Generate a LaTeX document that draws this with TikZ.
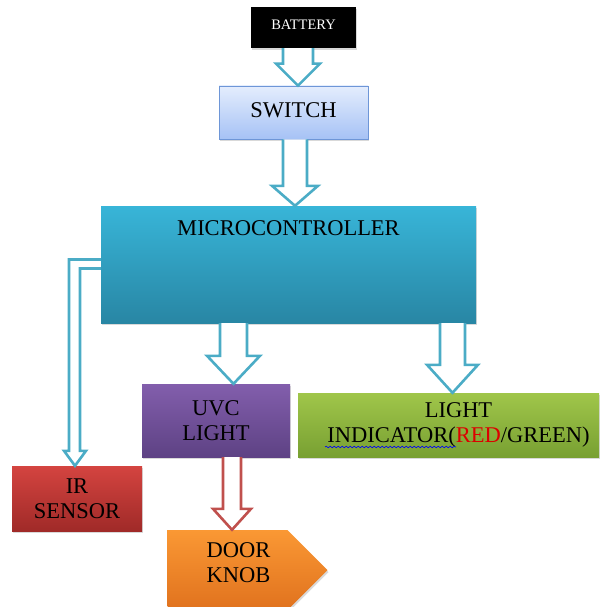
\documentclass[tikz,border=0pt]{standalone}
\usepackage{fontspec}
\setmainfont{Liberation Serif}
\usepackage{xcolor}
\usepackage{tikz}
\usetikzlibrary{calc,positioning,shapes.symbols,shadows,decorations.pathmorphing}

\definecolor{arrowcyan}{RGB}{75,172,198}
\definecolor{arrowred}{RGB}{192,80,77}
\definecolor{swtop}{RGB}{228,237,253}
\definecolor{swbot}{RGB}{166,194,245}
\definecolor{swedge}{RGB}{110,150,215}
\definecolor{mctop}{RGB}{56,181,216}
\definecolor{mcbot}{RGB}{40,134,164}
\definecolor{uvctop}{RGB}{130,94,172}
\definecolor{uvcbot}{RGB}{94,66,132}
\definecolor{indtop}{RGB}{160,198,74}
\definecolor{indbot}{RGB}{120,160,50}
\definecolor{irtop}{RGB}{212,68,64}
\definecolor{irbot}{RGB}{160,42,40}
\definecolor{doortop}{RGB}{250,152,52}
\definecolor{doorbot}{RGB}{224,114,30}
\definecolor{redtxt}{RGB}{220,0,0}

\newcommand{\bigfont}{\fontsize{22.5}{25}\selectfont}

% hollow block arrow going down: [colour]{x}{from}{to}{shaft half}{head half}{head length}
\newcommand{\hollowdown}[7][arrowcyan]{%
  \draw[hollow, draw=#1] let \p1=(#3), \p2=(#4) in
    ({#2pt-#5pt},\y1) -- ({#2pt-#5pt},{\y2+#7pt}) -- ({#2pt-#6pt},{\y2+#7pt}) -- (#2pt,\y2)
    -- ({#2pt+#6pt},{\y2+#7pt}) -- ({#2pt+#5pt},{\y2+#7pt}) -- ({#2pt+#5pt},\y1);
}

\begin{document}
\begin{tikzpicture}[x=1pt, y=-1pt,
    box/.style={inner sep=0pt, align=center, font=\bigfont,
        drop shadow={shadow xshift=1pt, shadow yshift=-2pt, opacity=0.3}},
    hollow/.style={line width=2.6pt, fill=white, line join=miter}]
    \useasboundingbox (0,0) rectangle (603,607);

    % Top chain
    \node[box, fill=black, text=white, minimum width=105pt, minimum height=41pt,
        font=\fontsize{14.5}{16}\selectfont] (bat) at (303.5,27.5) {\raisebox{5pt}{BATTERY}};
    \node[box, draw=swedge, line width=0.8pt, top color=swtop, bottom color=swbot,
        minimum width=149pt, minimum height=53pt] (sw) at (293.5,112.5) {\raisebox{4pt}{SWITCH}};
    \node[box, top color=mctop, bottom color=mcbot, minimum width=375pt, minimum height=117pt,
        label={[anchor=north, inner sep=0pt, yshift=-15pt, font=\bigfont]north:MICROCONTROLLER}]
        (mc) at (288.5,264.5) {};

    % Outputs
    \node[box, top color=uvctop, bottom color=uvcbot, minimum width=148pt, minimum height=73pt]
        (uvc) at (216,420.5) {UVC\\LIGHT};
    \node[box, top color=indtop, bottom color=indbot, minimum width=301pt, minimum height=64pt,
        label={[align=center, xshift=10pt, font=\bigfont]center:{LIGHT\\INDICATOR(\textcolor{redtxt}{RED}/GREEN)}}]
        (ind) at (448.5,425) {};
    \node[box, top color=irtop, bottom color=irbot, minimum width=130pt, minimum height=65pt]
        (ir) at (77,498.5) {IR\\SENSOR};
    \node[box, signal, signal to=east, signal pointer angle=90, top color=doortop, bottom color=doorbot,
        minimum width=160pt, minimum height=80pt,
        label={[align=center, xshift=11pt, yshift=7pt, font=\bigfont]center:{DOOR\\KNOB}}]
        (door) at (227.5,570) {};

    % spell-check squiggle under INDICATOR(
    \draw[blue, line width=0.6pt, decorate, decoration={snake, segment length=4pt, amplitude=0.8pt}]
        ($(ind.center)+(-123.5,22)$) -- ($(ind.center)+(7.5,22)$);

    % Block arrows
    \hollowdown{298}{bat.south}{sw.north}{15}{22}{22}
    \hollowdown{295}{sw.south}{mc.north}{12}{23}{20}
    \hollowdown{233.5}{mc.south}{uvc.north}{13.5}{26.5}{28}
    \hollowdown{452.5}{mc.south}{ind.north}{12.5}{25.5}{28}
    \hollowdown[arrowred]{232}{uvc.south}{door.north}{9}{19}{21}

    % Elbow arrow to the IR sensor
    \draw[hollow, draw=arrowcyan] let \p1=(mc.west), \p2=(ir.north) in
        (\x1,{\y1+5pt}) -- (69pt,{\y1+5pt}) -- (69pt,{\y2+15pt}) -- (64pt,{\y2+15pt}) -- (75pt,\y2)
        -- (86pt,{\y2+15pt}) -- (80pt,{\y2+15pt}) -- (80pt,{\y1-4pt}) -- (\x1,{\y1-4pt});
\end{tikzpicture}
\end{document}
